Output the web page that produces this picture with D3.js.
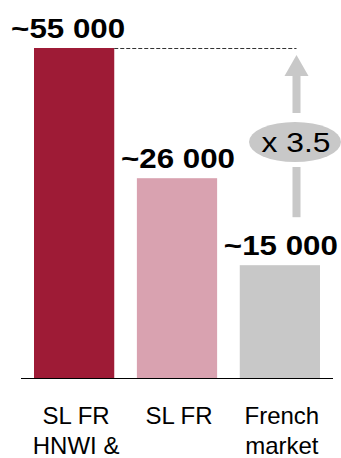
<!DOCTYPE html>
<html>
<head>
<meta charset="utf-8">
<script src="https://cdn.jsdelivr.net/npm/d3@7"></script>
<style>
  html, body { margin: 0; padding: 0; background: #fff; }
  svg { display: block; font-family: "Liberation Sans", Arial, sans-serif; }
</style>
</head>
<body>
<svg id="chart" width="341" height="458"></svg>
<script>
const categories = ["hnwi", "slfr", "market"];
const categoryLines = [["SL FR", "HNWI &"], ["SL FR"], ["French", "market"]];
const barValues = [55000, 33300, 18800];
const valueLabels = ["~55 000", "~26 000", "~15 000"];
const barColors = ["#9E1B36", "#D9A2B0", "#C8C8C8"];
const multiplierLabel = "x 3.5";

const svg = d3.select("#chart");
const baseline = 378;

const x = d3.scaleBand()
    .domain(categories)
    .range([34, 320])
    .paddingInner(0.22)
    .paddingOuter(0);

const y = d3.scaleLinear()
    .domain([0, 55000])
    .range([baseline, 48]);

// bars
svg.selectAll(".bar")
    .data(barValues)
    .enter().append("rect")
    .attr("class", "bar")
    .attr("x", (d, i) => x(categories[i]))
    .attr("y", d => y(d))
    .attr("width", x.bandwidth())
    .attr("height", d => baseline - y(d))
    .attr("fill", (d, i) => barColors[i]);

// baseline
svg.append("line")
    .attr("x1", 21).attr("x2", 333)
    .attr("y1", baseline + 0.5).attr("y2", baseline + 0.5)
    .attr("stroke", "#000")
    .attr("stroke-width", 1.2);

// value labels (first one sits a bit left of its bar)
svg.selectAll(".vlabel")
    .data(barValues)
    .enter().append("text")
    .attr("class", "vlabel")
    .attr("x", (d, i) => x(categories[i]) + x.bandwidth() / 2)
    .attr("dx", (d, i) => i === 0 ? -6 : 1)
    .attr("y", d => y(d) - 10)
    .attr("text-anchor", "middle")
    .attr("font-size", 28)
    .attr("font-weight", "bold")
    .attr("textLength", 114)
    .attr("lengthAdjust", "spacingAndGlyphs")
    .text((d, i) => valueLabels[i]);

// category labels
categoryLines.forEach((lines, i) => {
    const t = svg.append("text")
        .attr("text-anchor", "middle")
        .attr("font-size", 24)
        .attr("fill", "#000");
    lines.forEach((line, j) => {
        t.append("tspan")
            .attr("x", x(categories[i]) + x.bandwidth() / 2 + 2)
            .attr("y", 424 + j * 30)
            .text(line);
    });
});

// dashed reference line from top of first bar
const topY = y(barValues[0]);
const arrowX = 296.5;
svg.append("line")
    .attr("x1", x(categories[0]) + x.bandwidth())
    .attr("x2", arrowX)
    .attr("y1", topY + 0.5).attr("y2", topY + 0.5)
    .attr("stroke", "#333")
    .attr("stroke-width", 1)
    .attr("stroke-dasharray", "4,2");

// multiplier arrow
const grey = "#C8C8C8";
const low = y(barValues[2]);
svg.append("rect")
    .attr("x", arrowX - 4).attr("width", 8)
    .attr("y", 167).attr("height", low - 48 - 167)
    .attr("fill", grey);
svg.append("rect")
    .attr("x", arrowX - 4).attr("width", 8)
    .attr("y", 75).attr("height", 113 - 75)
    .attr("fill", grey);
svg.append("path")
    .attr("d", `M${arrowX},${topY + 7} L${arrowX + 12},${topY + 28} L${arrowX - 12},${topY + 28} Z`)
    .attr("fill", grey);

svg.append("ellipse")
    .attr("cx", 295).attr("cy", 142)
    .attr("rx", 46).attr("ry", 20)
    .attr("fill", grey);
svg.append("text")
    .attr("x", 296).attr("y", 152)
    .attr("text-anchor", "middle")
    .attr("font-size", 27)
    .attr("textLength", 69)
    .attr("lengthAdjust", "spacingAndGlyphs")
    .text(multiplierLabel);
</script>
</body>
</html>
